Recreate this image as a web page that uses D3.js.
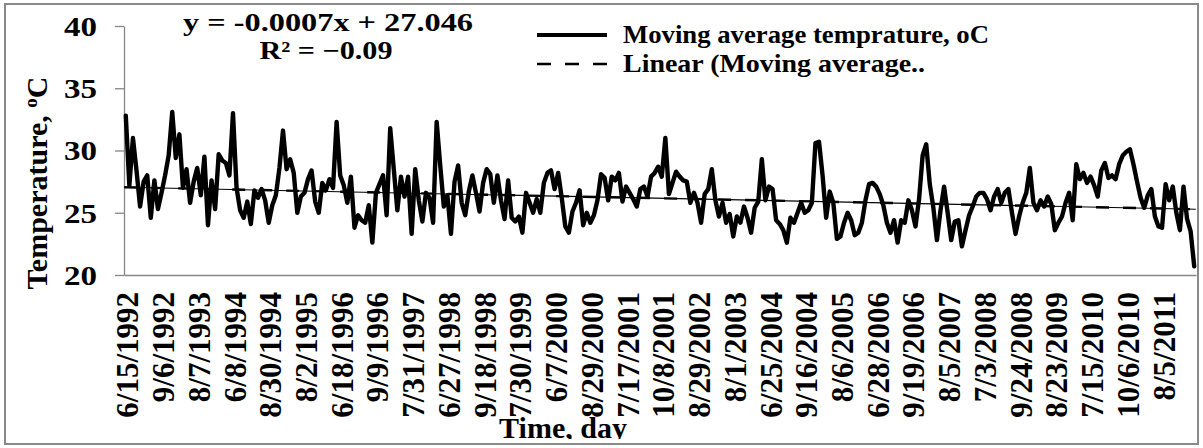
<!DOCTYPE html>
<html>
<head>
<meta charset="utf-8">
<script src="https://cdn.jsdelivr.net/npm/d3@7"></script>
<style>
  body { margin: 0; background: #fff; }
  svg { display: block; }
  text { font-family: "Liberation Serif", "Times New Roman", serif; font-weight: bold; fill: #000; }
</style>
</head>
<body>
<svg id="chart" width="1203" height="448"></svg>
<script>
// Category labels shown along the time axis (one every 84 daily records)
const dateLabels = [
  "6/15/1992", "9/6/1992", "8/7/1993", "6/8/1994", "8/30/1994", "8/2/1995",
  "6/18/1996", "9/9/1996", "7/31/1997", "6/27/1998", "9/18/1998", "7/30/1999",
  "6/7/2000", "8/29/2000", "7/17/2001", "10/8/2001", "8/29/2002", "8/1/2003",
  "6/25/2004", "9/16/2004", "8/6/2005", "6/28/2006", "9/19/2006", "8/5/2007",
  "7/3/2008", "9/24/2008", "8/23/2009", "7/15/2010", "10/6/2010", "8/5/2011"
];
const recordsPerLabel = 84;

// Moving average temperature (°C), ten samples per label interval
const movingAverage = [
  32.8, 27.2, 31.0, 28.4, 25.5, 27.5, 28.0, 24.6, 27.6, 25.3,
  26.6, 28.0, 29.6, 33.1, 29.4, 31.3, 27.0, 28.5, 25.8, 27.5,
  28.6, 26.4, 29.5, 24.0, 27.6, 25.3, 29.7, 29.2, 29.0, 28.0,
  33.0, 27.0, 25.2, 24.6, 25.9, 24.1, 26.8, 26.2, 26.9, 26.0,
  24.2, 25.6, 26.4, 28.6, 31.6, 28.5, 29.3, 28.2, 25.0, 26.3,
  26.6, 27.7, 28.4, 25.9, 25.0, 27.4, 26.8, 27.7, 27.0, 32.3,
  28.0, 27.2, 25.8, 27.9, 23.8, 24.8, 24.4, 24.2, 25.6, 22.6,
  26.6, 27.3, 28.0, 24.8, 31.8, 28.5, 25.2, 27.9, 26.3, 27.9,
  23.3, 28.5, 26.0, 24.3, 26.6, 26.2, 24.2, 32.3, 28.8, 25.5,
  26.4, 23.3, 27.5, 28.8, 25.8, 24.8, 26.7, 28.0, 26.6, 25.1,
  27.4, 28.5, 28.1, 25.8, 28.0, 26.0, 24.5, 27.6, 24.6, 24.3,
  24.7, 23.4, 26.6, 25.8, 25.0, 26.1, 25.0, 27.4, 28.2, 28.4,
  26.9, 28.2, 26.2, 23.9, 23.4, 25.1, 25.8, 26.8, 24.0, 25.0,
  24.2, 24.8, 26.0, 28.1, 27.8, 26.0, 27.9, 27.6, 28.2, 25.9,
  27.1, 26.6, 26.1, 25.5, 26.9, 27.1, 26.3, 27.9, 28.2, 28.7,
  27.9, 31.0, 26.5, 27.4, 28.3, 27.9, 27.6, 27.5, 25.8, 26.6,
  25.8, 24.2, 26.5, 26.9, 28.5, 26.0, 24.7, 25.8, 24.2, 24.9,
  23.1, 24.7, 24.2, 25.5, 24.6, 23.4, 25.4, 25.9, 29.3, 26.0,
  27.1, 26.9, 24.4, 24.1, 23.6, 22.6, 24.6, 24.2, 25.0, 25.8,
  25.0, 25.2, 25.8, 30.6, 30.7, 28.0, 24.6, 26.7, 25.8, 22.9,
  23.1, 24.2, 25.0, 24.4, 23.2, 23.4, 24.2, 26.0, 27.3, 27.4,
  27.1, 26.5, 25.6, 24.2, 23.4, 24.4, 22.6, 24.4, 24.2, 26.0,
  25.2, 23.9, 26.1, 29.6, 30.5, 27.3, 25.4, 22.8, 25.2, 27.1,
  25.0, 22.8, 24.3, 24.4, 22.3, 23.6, 24.8, 25.5, 26.3, 26.6,
  26.6, 26.1, 25.2, 26.3, 26.9, 25.8, 26.6, 26.9, 25.0, 23.3,
  24.7, 25.8, 26.6, 28.6, 25.8, 25.2, 26.0, 25.5, 26.3, 25.7,
  23.6, 24.2, 24.7, 25.8, 26.6, 24.4, 28.9, 27.7, 28.2, 27.4,
  27.9, 27.2, 26.3, 28.4, 29.0, 27.8, 28.0, 27.7, 28.9, 29.6,
  29.9, 30.1, 28.9, 27.5, 26.2, 25.4, 26.4, 26.9, 24.7, 23.9,
  23.8, 27.3, 26.0, 27.1, 25.0, 23.6, 27.1, 24.5, 23.5, 20.7
];

// Linear trend fitted over record number
const trendSlope = -0.0007;
const trendIntercept = 27.046;
const trendR2 = -0.09;

const yTicks = [20, 25, 30, 35, 40];

const totalRecords = recordsPerLabel * dateLabels.length;
const recordStep = totalRecords / movingAverage.length;

const svg = d3.select("#chart");
const plot = { left: 124, right: 1196, top: 26, bottom: 275 };
const axisGrey = "#868686";

const x = d3.scaleLinear().domain([0.5, totalRecords + 0.5]).range([plot.left, plot.right]);
const y = d3.scaleLinear().domain([20, 40]).range([plot.bottom, plot.top]);

// chart frame
svg.append("rect")
  .attr("x", 5).attr("y", 4).attr("width", 1193).attr("height", 440)
  .attr("fill", "none").attr("stroke", "#8a8a8a").attr("stroke-width", 2);

// y axis
const yAxis = svg.append("g").attr("transform", `translate(${plot.left},0)`)
  .call(d3.axisLeft(y).tickValues(yTicks).tickSize(9).tickSizeOuter(0).tickFormat(d3.format("d")));
yAxis.select(".domain").attr("stroke", axisGrey).attr("stroke-width", 1.3);
yAxis.selectAll(".tick line").attr("stroke", axisGrey).attr("stroke-width", 1.3);
yAxis.selectAll(".tick text")
  .attr("x", 97 - plot.left).attr("dy", "0.35em")
  .attr("font-size", 27).attr("font-family", null)
  .attr("textLength", 33).attr("lengthAdjust", "spacingAndGlyphs");

// x axis (categories, labels only)
const labelRecords = dateLabels.map((d, i) => 1 + i * recordsPerLabel);
const xAxis = svg.append("g").attr("transform", `translate(0,${plot.bottom})`)
  .call(d3.axisBottom(x).tickValues(labelRecords).tickSize(0).tickSizeOuter(0)
    .tickFormat((d, i) => dateLabels[i]));
xAxis.select(".domain").attr("stroke", axisGrey).attr("stroke-width", 1.3);
xAxis.selectAll(".tick text")
  .attr("font-size", 31).attr("font-family", null)
  .attr("text-anchor", "end")
  .attr("transform", "translate(0,17) rotate(-90)")
  .attr("x", 0).attr("y", 0).attr("dy", "0.44em");

// moving-average series
const points = movingAverage.map((v, i) => ({ rec: 0.5 + (i + 0.5) * recordStep, v }));
svg.append("path")
  .datum(points)
  .attr("fill", "none").attr("stroke", "#000").attr("stroke-width", 4.4)
  .attr("stroke-linejoin", "round").attr("stroke-linecap", "round")
  .attr("d", d3.line().x(d => x(d.rec)).y(d => y(d.v)));

// linear trend line
const trendPts = [1, totalRecords].map(r => ({ rec: r, v: trendSlope * r + trendIntercept }));
const trendLine = d3.line().x(d => x(d.rec)).y(d => y(d.v));
svg.append("path").datum(trendPts)
  .attr("fill", "none").attr("stroke", "#000").attr("stroke-width", 1.1)
  .attr("d", trendLine);
svg.append("path").datum(trendPts)
  .attr("fill", "none").attr("stroke", "#000").attr("stroke-width", 2.4)
  .attr("stroke-dasharray", "13,14")
  .attr("d", trendLine);

// trend equation
const fmtR = d3.format(".2f");
svg.append("text").attr("x", 328).attr("y", 31).attr("text-anchor", "middle")
  .attr("font-size", 26).attr("textLength", 290).attr("lengthAdjust", "spacingAndGlyphs")
  .text(`y = ${trendSlope}x + ${trendIntercept}`);
svg.append("text").attr("x", 326).attr("y", 59).attr("text-anchor", "middle")
  .attr("font-size", 25).attr("textLength", 133).attr("lengthAdjust", "spacingAndGlyphs")
  .text(`R² = ${fmtR(trendR2)}`);

// legend
const legend = [
  { label: "Moving average temprature, oC", dash: null, width: 4, len: 366, base: 43 },
  { label: "Linear (Moving average..", dash: "14,14", width: 2.5, len: 302, base: 72 }
];
legend.forEach(item => {
  svg.append("line")
    .attr("x1", 537).attr("x2", 607)
    .attr("y1", item.base - 8).attr("y2", item.base - 8)
    .attr("stroke", "#000").attr("stroke-width", item.width)
    .attr("stroke-dasharray", item.dash);
  svg.append("text").attr("x", 623).attr("y", item.base)
    .attr("font-size", 25).attr("textLength", item.len).attr("lengthAdjust", "spacingAndGlyphs")
    .text(item.label);
});

// axis titles
const yTitle = svg.append("text")
  .attr("transform", "translate(47,183) rotate(-90)")
  .attr("text-anchor", "middle").attr("font-size", 30);
yTitle.append("tspan").text("Temperature, ");
yTitle.append("tspan").attr("font-size", 19).attr("dy", -10).text("o");
yTitle.append("tspan").attr("dy", 10).text("C");

svg.append("clipPath").attr("id", "frameClip")
  .append("rect").attr("x", 0).attr("y", 0).attr("width", 1203).attr("height", 439);
svg.append("text")
  .attr("clip-path", "url(#frameClip)")
  .attr("x", 563).attr("y", 438).attr("text-anchor", "middle").attr("font-size", 30)
  .text("Time, day");
</script>
</body>
</html>
